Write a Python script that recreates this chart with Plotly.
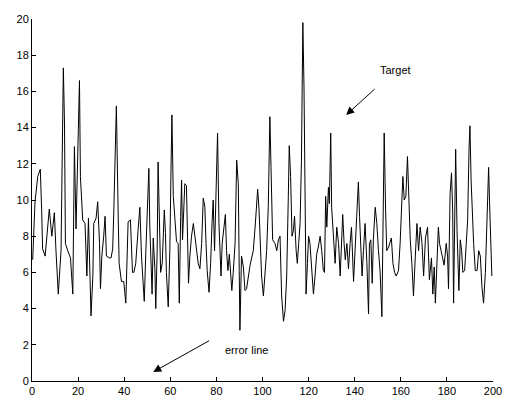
import plotly.graph_objects as go

# Sample positions and values
x_vals = [0.3,1.3,2.5,3.6,4.2,4.6,5.7,6.8,7.5,8.6,9.7,10.4,11.4,12.6,13.0,13.6,14.1,14.5,15.5,16.7,
          17.7,18.1,18.4,19.1,19.6,20.1,20.6,21.0,22.0,23.0,23.8,24.5,25.6,26.4,26.8,27.8,28.5,29.3,29.7,30.3,
          31.1,31.7,32.3,33.6,34.3,35.0,35.5,36.1,36.6,37.4,37.8,38.8,39.8,40.7,41.3,41.7,42.7,43.6,44.2,45.0,
          46.0,46.8,47.5,48.2,48.7,49.4,50.0,50.7,51.1,51.7,52.1,52.6,53.3,53.7,54.3,54.7,55.2,55.8,56.5,57.4,
          57.9,58.3,59.1,59.8,60.3,60.7,61.3,62.0,62.7,63.4,63.9,64.5,64.9,65.3,65.9,66.3,67.0,67.5,67.9,68.5,
          69.2,70.0,71.1,72.1,72.85,73.6,74.3,75.0,75.5,76.0,76.8,77.5,78.1,78.6,79.2,79.7,80.1,80.5,81.1,81.5,
          82.0,82.5,83.3,83.9,84.4,85.0,85.6,86.7,87.3,88.1,88.8,89.5,89.9,90.2,90.9,91.7,92.4,93.1,94.6,95.3,
          96.0,96.8,97.5,97.9,98.5,98.9,99.6,100.4,101.1,101.8,102.5,103.2,103.7,104.4,105.4,106.2,106.9,107.6,108.3,109.1,
          109.8,110.5,111.2,111.6,112.2,112.8,113.4,113.9,114.6,115.1,115.7,116.3,116.9,117.2,117.5,118.0,118.5,118.9,119.5,120.0,
          120.6,121.4,122.1,122.8,123.5,124.2,125.0,125.7,126.4,126.9,127.4,127.9,128.6,129.0,129.6,130.0,130.8,131.5,132.2,133.0,
          133.7,134.1,134.8,135.4,135.9,136.6,137.3,138.0,138.6,139.5,140.2,140.9,141.6,142.1,142.6,143.2,143.8,144.5,145.3,146.0,
          146.4,147.0,147.6,148.1,148.9,149.6,150.3,151.0,151.8,152.2,152.8,153.4,153.9,154.7,155.4,155.9,156.6,157.3,158.0,159.0,
          159.7,160.3,160.9,161.5,162.2,162.9,163.5,164.1,164.8,165.5,166.3,167.0,167.7,168.4,169.2,169.9,170.7,171.6,172.4,173.3,
          173.9,174.5,175.0,175.8,176.3,176.8,177.8,178.8,179.7,180.3,180.7,181.4,182.0,182.5,182.9,183.4,183.8,184.4,184.8,185.2,
          185.8,186.4,186.9,187.7,188.4,189.0,189.6,190.0,190.5,191.0,191.6,192.3,193.1,193.8,194.5,195.2,195.9,196.7,197.4,198.1,
          198.5,199.1,199.5]

y_vals = [6.7,9.9,11.3,11.7,9.4,7.3,6.9,8.6,9.5,8.0,9.3,7.2,4.8,7.2,11.75,17.3,14.2,7.6,7.2,6.8,
          4.8,9.45,12.95,8.4,10.55,13.9,16.6,11.3,8.9,8.7,5.8,9.0,3.6,5.8,8.7,9.0,9.9,7.6,5.1,6.9,
          8.0,9.1,6.9,6.8,6.8,7.3,9.45,12.8,15.2,9.1,6.5,5.5,5.5,4.3,7.2,8.8,8.9,6.0,6.0,6.5,
          8.3,9.6,6.9,4.9,4.4,7.2,9.6,11.75,8.6,5.4,4.8,7.9,6.2,4.0,7.2,12.1,9.6,6.0,6.5,9.45,
          8.2,6.0,4.1,7.2,11.65,14.7,10.2,9.0,7.7,7.6,4.3,9.1,11.1,7.8,9.5,10.9,10.8,7.4,5.4,6.9,
          8.0,8.7,7.6,6.5,6.2,7.6,10.1,9.6,7.6,6.1,4.9,6.5,8.7,10.0,7.2,9.45,10.9,13.7,8.7,6.9,
          5.8,7.6,8.7,9.2,7.2,6.1,7.0,5.0,6.0,7.6,12.2,10.9,6.1,2.8,6.9,6.3,5.0,5.1,6.4,6.9,
          7.2,8.5,9.8,10.6,9.45,7.6,5.8,4.7,6.0,7.2,9.6,14.6,11.8,7.8,7.6,7.2,7.8,8.0,4.7,3.3,
          3.9,5.8,10.2,13.0,11.3,8.0,8.3,9.1,7.2,6.5,7.6,8.7,12.2,16.3,19.8,16.3,10.2,4.8,6.5,8.0,
          7.6,5.8,4.8,5.8,7.0,7.4,8.0,7.2,6.1,6.0,10.2,8.5,10.7,9.8,13.7,9.6,7.6,6.5,8.5,7.6,
          5.8,7.2,9.2,7.6,6.7,7.6,6.2,7.6,8.5,5.5,7.6,9.1,11.0,9.1,7.2,5.8,7.2,8.7,6.5,3.7,
          7.6,7.8,5.4,7.8,9.6,8.7,7.2,6.1,3.55,9.1,13.7,9.45,7.2,7.4,7.8,7.9,6.5,6.0,5.8,6.1,
          7.6,9.6,11.3,10.0,10.2,12.4,9.45,7.8,6.5,4.7,6.9,8.7,7.2,8.5,7.6,5.8,7.9,8.5,5.6,6.8,
          4.8,6.3,4.3,7.4,8.5,7.6,6.9,6.4,7.6,6.9,5.1,10.4,11.5,9.45,4.3,9.45,12.8,8.3,6.5,5.0,
          7.8,7.2,6.0,6.1,7.6,8.9,12.8,14.1,11.1,9.1,7.6,6.1,6.1,7.2,6.9,5.2,4.3,6.0,9.45,11.8,
          9.9,7.8,5.8]

x_ticks = [0, 20, 40, 60, 80, 100, 120, 140, 160, 180, 200]
y_ticks = [0, 2, 4, 6, 8, 10, 12, 14, 16, 18, 20]
label_texts = ["Target", "error line"]

FONT = "Liberation Sans, Arial, sans-serif"

fig = go.Figure()
fig.add_trace(go.Scatter(x=x_vals, y=y_vals, mode="lines",
                         line=dict(color="black", width=1), showlegend=False,
                         hoverinfo="skip"))

axis_common = dict(showline=True, linecolor="black", linewidth=1, mirror=False,
                   showgrid=False, zeroline=False, ticks="inside", ticklen=4,
                   tickcolor="black", tickwidth=1, automargin=False,
                   tickfont=dict(family=FONT, size=11, color="black"))

fig.update_xaxes(range=[0, 200], tickvals=x_ticks, **axis_common)
fig.update_yaxes(range=[0, 20], tickvals=y_ticks, **axis_common)

ann = [
    dict(x=157.9, y=17.2, xref="x", yref="y", text=label_texts[0], showarrow=False,
         font=dict(family=FONT, size=11, color="black")),
    dict(x=136.3, y=14.7, xref="x", yref="y", ax=149.3, ay=16.2, axref="x", ayref="y",
         text="", showarrow=True, arrowhead=2, arrowsize=1.6, arrowwidth=1, arrowcolor="black"),
    dict(x=93.1, y=1.71, xref="x", yref="y", text=label_texts[1], showarrow=False,
         font=dict(family=FONT, size=11, color="black")),
    dict(x=52.6, y=0.5, xref="x", yref="y", ax=77.5, ay=2.27, axref="x", ayref="y",
         text="", showarrow=True, arrowhead=2, arrowsize=1.6, arrowwidth=1, arrowcolor="black"),
]

# The page body adds an 8px offset, so the figure is sized to fit the window.
fig.update_layout(width=503, height=394,
                  margin=dict(l=24, r=18, t=11, b=21, pad=0),
                  paper_bgcolor="white", plot_bgcolor="white",
                  annotations=ann, showlegend=False,
                  font=dict(family=FONT, size=11, color="black"))

fig.write_html("out.html")
